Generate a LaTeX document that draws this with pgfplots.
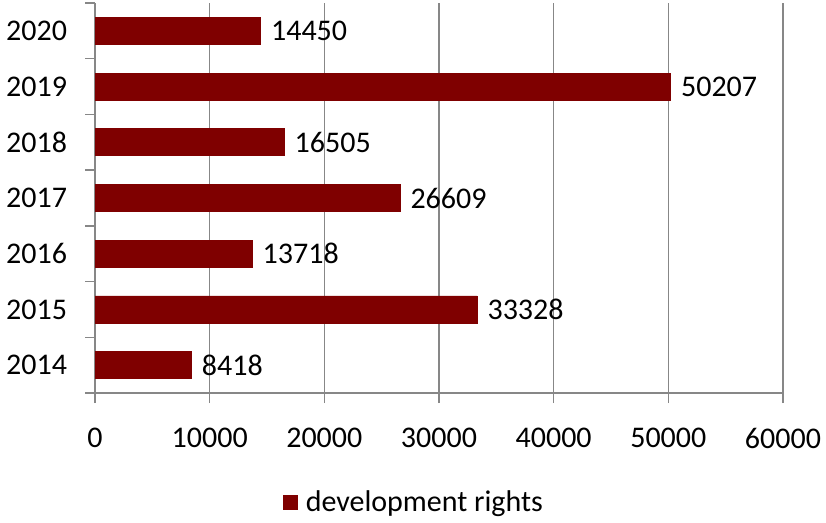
\documentclass[border=0pt]{standalone}
\usepackage{pgfplots}
\pgfplotsset{compat=1.18}
\usepackage{fontspec}
\setmainfont{Carlito}
\definecolor{barred}{HTML}{7F0000}
\definecolor{gridgray}{HTML}{878787}
\pgfplotsset{/pgf/number format/1000 sep={}, /pgf/number format/assume math mode=true}

\begin{document}
\begin{tikzpicture}[font=\fontsize{15}{18}\selectfont]
\begin{axis}[
    scale only axis,
    width=344pt, height=195pt,
    xbar,
    bar width=13.5pt,
    xmin=0, xmax=60000,
    ymin=-0.5, ymax=6.5,
    xtick={0,10000,...,60000},
    scaled x ticks=false,
    ytick={-0.5,0.5,...,6.5},
    yticklabels={},
    extra y ticks={0,1,2,3,4,5,6},
    extra y tick labels={2014,2015,2016,2017,2018,2019,2020},
    extra y tick style={major tick length=0pt, yticklabel style={xshift=-10.5pt}},
    tick align=outside,
    major tick length=5pt,
    tick style={draw=gridgray, line width=0.7pt},
    axis x line*=bottom,
    axis y line*=left,
    axis line style={draw=gridgray, line width=0.7pt, -},
    xmajorgrids,
    major grid style={draw=gridgray, line width=0.7pt},
    xticklabel style={yshift=-9pt},
    nodes near coords,
    point meta=x,
    every node near coord/.append style={anchor=west, inner ysep=0pt, inner xsep=0pt, xshift=5pt, text=black},
    legend style={draw=none, at={(0.465,-0.28)}, anchor=center},
    clip=false,
]
\addplot[fill=barred, draw=barred,
    legend image code/.code={\fill[barred] (0pt,-3.5pt) rectangle (7pt,3.5pt); \path (9pt,0pt);}]
    coordinates {(8418,0) (33328,1) (13718,2) (26609,3) (16505,4) (50207,5) (14450,6)};
\addlegendentry{development rights}
\coordinate (bl) at (rel axis cs:-0.1381,-0.3308);
\coordinate (tr) at (rel axis cs:1.0625,1.0077);
\end{axis}
\pgfresetboundingbox
\path[use as bounding box] (bl) rectangle (tr);
\end{tikzpicture}
\end{document}
